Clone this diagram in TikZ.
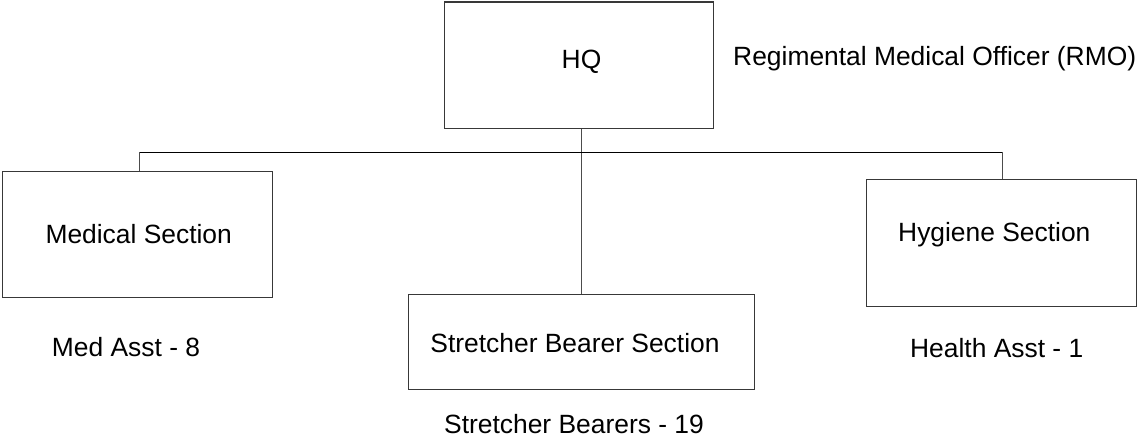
\documentclass[tikz,border=0pt]{standalone}
\usepackage{fontspec}
\setmainfont{Liberation Sans}
\begin{document}
\begin{tikzpicture}[x=1pt,y=-1pt,
  unitbox/.style={draw=black!78,line width=1.1pt,fill=none,inner sep=0pt},
  caption/.style={anchor=base,inner sep=0pt,font=\fontsize{26.4}{30}\selectfont},
  link/.style={draw=black!70,line width=1.1pt},
  bus/.style={draw=black,line width=1.5pt}]
\useasboundingbox (0,0) rectangle (1139,439);

% unit boxes
\node[unitbox,minimum width=269.5pt,minimum height=126.5pt] (hq)  at (579,65.2) {};
\node[unitbox,minimum width=269.5pt,minimum height=126.5pt] (med) at (137.5,234.4) {};
\node[unitbox,minimum width=270pt,minimum height=127.5pt] (hyg) at (1001.7,242.8) {};
\node[unitbox,minimum width=346pt,minimum height=95pt] (sb) at (581.3,341.8) {};

% box titles
\node[caption] (hqt)  at (581.5,68) {HQ};
\node[caption] (medt) at (138.7,243) {Medical Section};
\node[caption] (hygt) at (994.3,241.5) {Hygiene Section};
\node[caption] (sbt)  at (575,352) {Stretcher Bearer Section};

% strength notes
\node[caption] (rmo) at (934.7,65) {Regimental Medical Officer (RMO)};
\node[caption] (mednote) at (126,356.7) {Med Asst - 8};
\node[caption] (hygnote) at (996.7,357) {Health Asst - 1};
\node[caption] (sbnote) at (574,433) {Stretcher Bearers - 19};

% connectors
\coordinate (busL) at (139.3,152.3);
\coordinate (busR) at (1002.3,152.3);
\path[link] (sb.north |- hq.south) -- (sb.north);
\path[bus] (busL) -- (busR);
\path[link] (busL) -- (busL |- med.north);
\path[link] (busR) -- (busR |- hyg.north);
\end{tikzpicture}
\end{document}
